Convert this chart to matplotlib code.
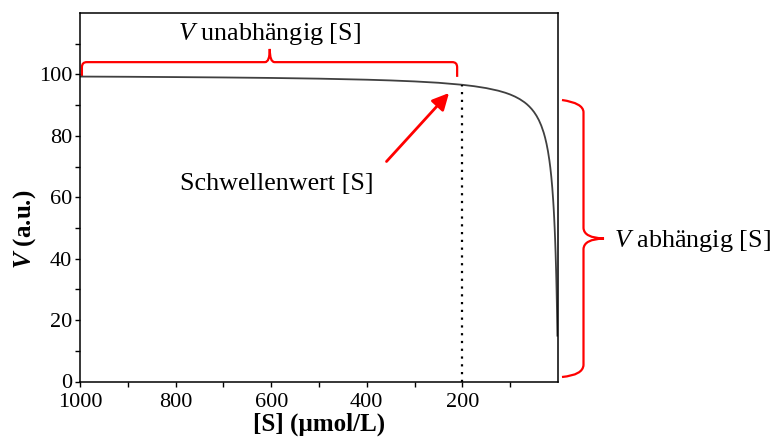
import matplotlib
matplotlib.use("Agg")
import matplotlib.pyplot as plt
from matplotlib.patches import FancyArrowPatch, PathPatch
from matplotlib.path import Path
from matplotlib.ticker import FixedLocator

plt.rcParams["font.family"] = ["Liberation Serif", "DejaVu Serif"]
plt.rcParams["mathtext.fontset"] = "custom"
plt.rcParams["mathtext.rm"] = "Liberation Serif"
plt.rcParams["mathtext.it"] = "Liberation Serif:italic"
plt.rcParams["mathtext.bf"] = "Liberation Serif:bold"
plt.rcParams["mathtext.bfit"] = "Liberation Serif:italic:bold"

# substrate concentration [S] (µmol/L) and reaction velocity V (a.u.)
substrate = [1000, 900, 800, 700, 600, 500, 400, 350, 300, 250, 200, 175,
             150, 125, 110, 100, 90, 80, 70, 65, 60, 55, 50, 45, 40, 35,
             30, 27, 24, 21, 18, 16, 14, 12, 10, 9, 8, 7, 6, 5, 4, 3.5, 3,
             2.5, 2, 1.5, 1.2]
velocity = [99.30, 99.23, 99.13, 99.01, 98.85, 98.62, 98.28, 98.04, 97.72,
            97.28, 96.62, 96.15, 95.54, 94.70, 94.02, 93.46, 92.78, 91.95,
            90.91, 90.28, 89.55, 88.71, 87.72, 86.54, 85.11, 83.33, 81.08,
            79.41, 77.42, 75.00, 72.00, 69.57, 66.67, 63.16, 58.82, 56.25,
            53.33, 50.00, 46.15, 41.67, 36.36, 33.33, 30.00, 26.32, 22.22,
            17.65, 14.63]

threshold_s = 200
threshold_v = 96.62

x_ticks = [1000, 800, 600, 400, 200]
x_tick_labels = ["1000", "800", "600", "400", "200"]
x_minor = [900, 700, 500, 300, 100]
y_ticks = [0, 20, 40, 60, 80, 100]
y_minor = [10, 30, 50, 70, 90, 110]

fig = plt.figure(figsize=(7.76, 4.38), dpi=100)
ax = fig.add_axes([80 / 776, 56.5 / 438, 478 / 776, 368.5 / 438])

ax.plot(substrate, velocity, color="#404040", lw=1.3, solid_capstyle="butt")
ax.plot([threshold_s, threshold_s], [0, threshold_v], color="black",
        lw=1.6, linestyle=(0, (1, 2.5)))

ax.set_xlim(1000, 0)
ax.set_ylim(0, 120)
ax.xaxis.set_major_locator(FixedLocator(x_ticks))
ax.set_xticklabels(x_tick_labels)
ax.xaxis.set_minor_locator(FixedLocator(x_minor))
ax.yaxis.set_major_locator(FixedLocator(y_ticks))
ax.yaxis.set_minor_locator(FixedLocator(y_minor))
ax.tick_params(which="both", direction="out", length=3.5, width=1,
               labelsize=16)
ax.tick_params(axis="x", which="both", pad=5)
ax.tick_params(axis="y", which="both", pad=2)
for sp in ax.spines.values():
    sp.set_linewidth(1.1)

ax.set_xlabel("[S] (µmol/L)", fontsize=18, fontweight="bold", labelpad=0)
ax.set_ylabel(r"$\mathbfit{V}$ (a.u.)", fontsize=18, fontweight="bold")
ax.yaxis.set_label_coords(-0.088, 0.414)

red = "#ff0000"


def brace_h(ax, x0, x1, y_base, y_bar, y_tip, xm):
    r = 0.35 * (y_bar - y_base)
    rx = 10
    verts = [(x0, y_base), (x0, y_bar - r), (x0, y_bar), (x0 - rx, y_bar),
             (xm + rx, y_bar), (xm, y_bar), (xm, y_tip),
             (xm, y_bar), (xm - rx, y_bar),
             (x1 + rx, y_bar), (x1, y_bar), (x1, y_bar - r), (x1, y_base)]
    codes = [Path.MOVETO, Path.LINETO, Path.CURVE3, Path.CURVE3,
             Path.LINETO, Path.CURVE3, Path.CURVE3,
             Path.CURVE3, Path.CURVE3,
             Path.LINETO, Path.CURVE3, Path.CURVE3, Path.LINETO]
    ax.add_patch(PathPatch(Path(verts, codes), fc="none", ec=red, lw=1.6,
                           clip_on=False, transform=ax.transData))


# bracket above the plateau
brace_h(ax, 996, 211, 99.2, 104.0, 108.3, 603)


def fig_px(x, y):
    return (x / 776, 1 - y / 438)


# bracket to the right of the steep part
pts = [(562, 100), (583, 103), (583.5, 112), (583.5, 228), (584, 238),
       (604, 238.5), (584, 239), (583.5, 249), (583.5, 365), (583, 375),
       (562, 377)]
verts = [fig_px(*p) for p in pts]
codes = [Path.MOVETO, Path.CURVE3, Path.CURVE3, Path.LINETO, Path.CURVE3,
         Path.CURVE3, Path.CURVE3, Path.CURVE3, Path.LINETO, Path.CURVE3,
         Path.CURVE3]
fig.add_artist(PathPatch(Path(verts, codes), fc="none", ec=red, lw=1.6,
                         transform=fig.transFigure, clip_on=False))

fig.text(614 / 776, 1 - 241 / 438, r"$V$ abhängig [S]", fontsize=18.8,
         va="center", ha="left")
ax.text(603, 113.3, r"$V$ unabhängig [S]", fontsize=18.8, ha="center",
        va="center")
fig.text(277 / 776, 1 - 184 / 438, "Schwellenwert [S]", fontsize=18.8,
         ha="center", va="center")

arrow = FancyArrowPatch(fig_px(386.5, 161.5), fig_px(449, 93),
                        transform=fig.transFigure, arrowstyle="-|>",
                        mutation_scale=25, color=red, lw=2,
                        shrinkA=0, shrinkB=0)
fig.add_artist(arrow)

fig.savefig("out.png", dpi=100)
